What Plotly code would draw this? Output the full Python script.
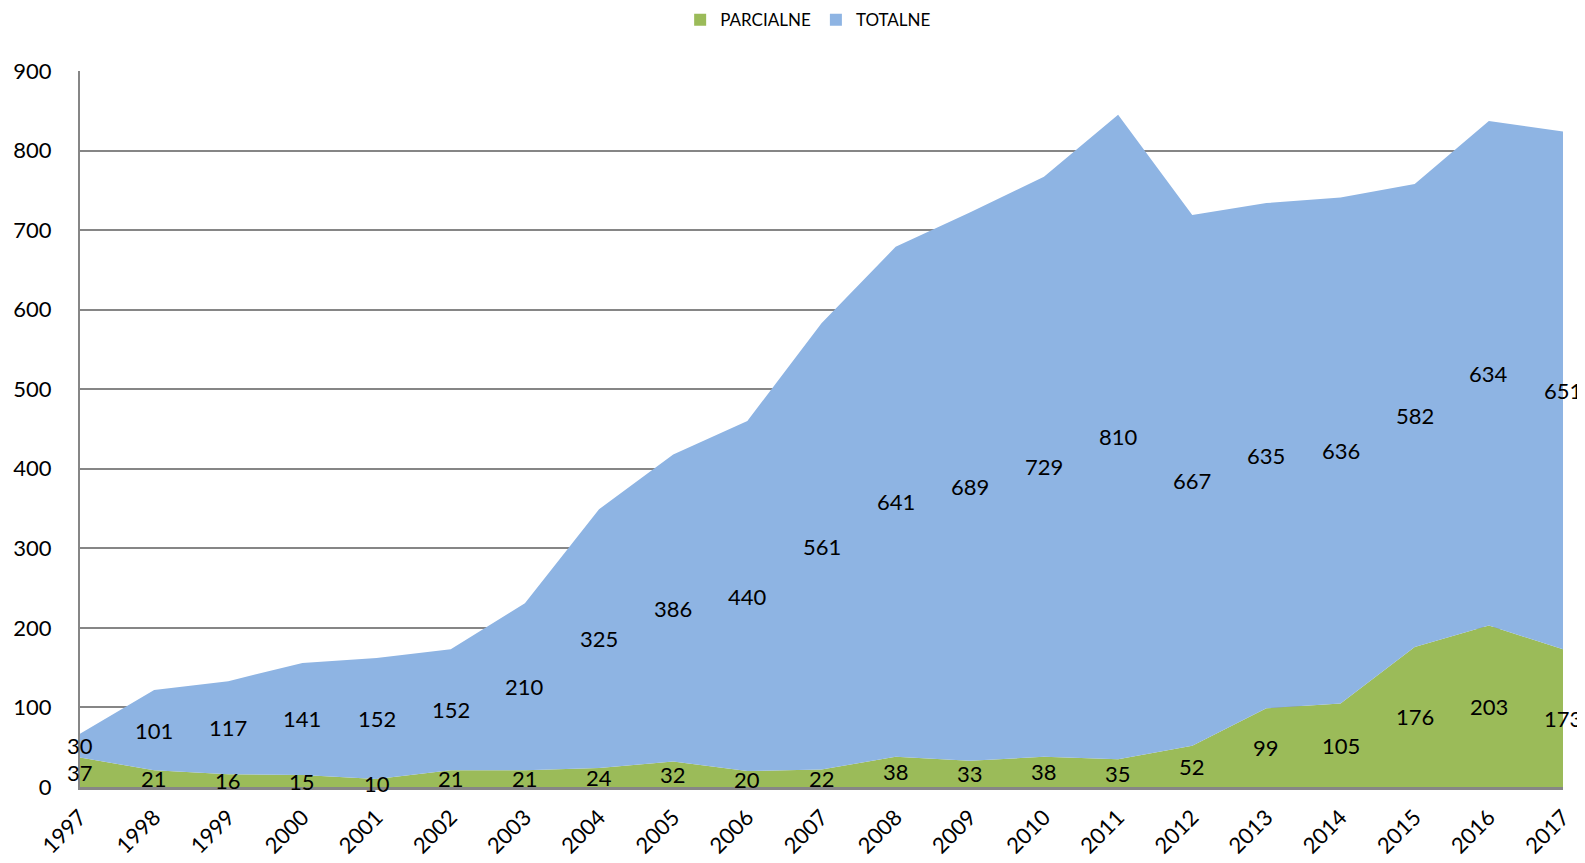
import plotly.graph_objects as go

years = [str(y) for y in range(1997, 2018)]
parcialne = [37, 21, 16, 15, 10, 21, 21, 24, 32, 20, 22, 38, 33, 38, 35, 52, 99, 105, 176, 203, 173]
totalne = [30, 101, 117, 141, 152, 152, 210, 325, 386, 440, 561, 641, 689, 729, 810, 667, 635, 636, 582, 634, 651]

GREEN = "#9BBB59"
BLUE = "#8EB4E3"
FONT = "Lato, Carlito, Liberation Sans, sans-serif"

fig = go.Figure()
fig.add_trace(go.Scatter(x=years, y=parcialne, name="PARCIALNE", stackgroup="s",
                         mode="lines", line=dict(width=0, color=GREEN), fillcolor=GREEN,
                         showlegend=False))
fig.add_trace(go.Scatter(x=years, y=totalne, name="TOTALNE", stackgroup="s",
                         mode="lines", line=dict(width=0, color=BLUE), fillcolor=BLUE,
                         showlegend=False))

# legend entries with square swatches
for nm, col in [("PARCIALNE", GREEN), ("TOTALNE", BLUE)]:
    fig.add_trace(go.Scatter(x=[None], y=[None], mode="markers", name=nm,
                             marker=dict(symbol="square", size=12, color=col)))

# data labels centred in each band (category index used for x)
annotations = []
for i, (p, t) in enumerate(zip(parcialne, totalne)):
    annotations.append(dict(x=i, y=p / 2, xref="x", yref="y", text=str(p), showarrow=False,
                            font=dict(size=22, color="#000000", family=FONT)))
    annotations.append(dict(x=i, y=p + t / 2, xref="x", yref="y", text=str(t), showarrow=False,
                            font=dict(size=22, color="#000000", family=FONT)))

fig.update_layout(
    width=1577, height=855,
    margin=dict(l=72, r=22, t=63, b=76, autoexpand=False),
    paper_bgcolor="white", plot_bgcolor="white",
    font=dict(family=FONT, color="#000000"),
    showlegend=True,
    annotations=annotations,
    legend=dict(orientation="h", x=0.491, xanchor="center", y=1.071, yanchor="middle",
                font=dict(size=17, family=FONT), traceorder="normal",
                itemwidth=30, tracegroupgap=0),
    xaxis=dict(type="category", range=[0, 20], showgrid=False, tickangle=-45,
               tickfont=dict(size=22, family=FONT), showline=True,
               linecolor="#868686", linewidth=2.5, ticks="", automargin=False,
               ticklabelstandoff=6),
    yaxis=dict(range=[0, 900], dtick=100, showgrid=True, gridcolor="#868686",
               gridwidth=1.5, tickfont=dict(size=22, family=FONT),
               showline=True, linecolor="#868686", linewidth=2, zeroline=False,
               ticks="", automargin=False, ticklabelstandoff=22),
)

fig.write_html("out.html")
